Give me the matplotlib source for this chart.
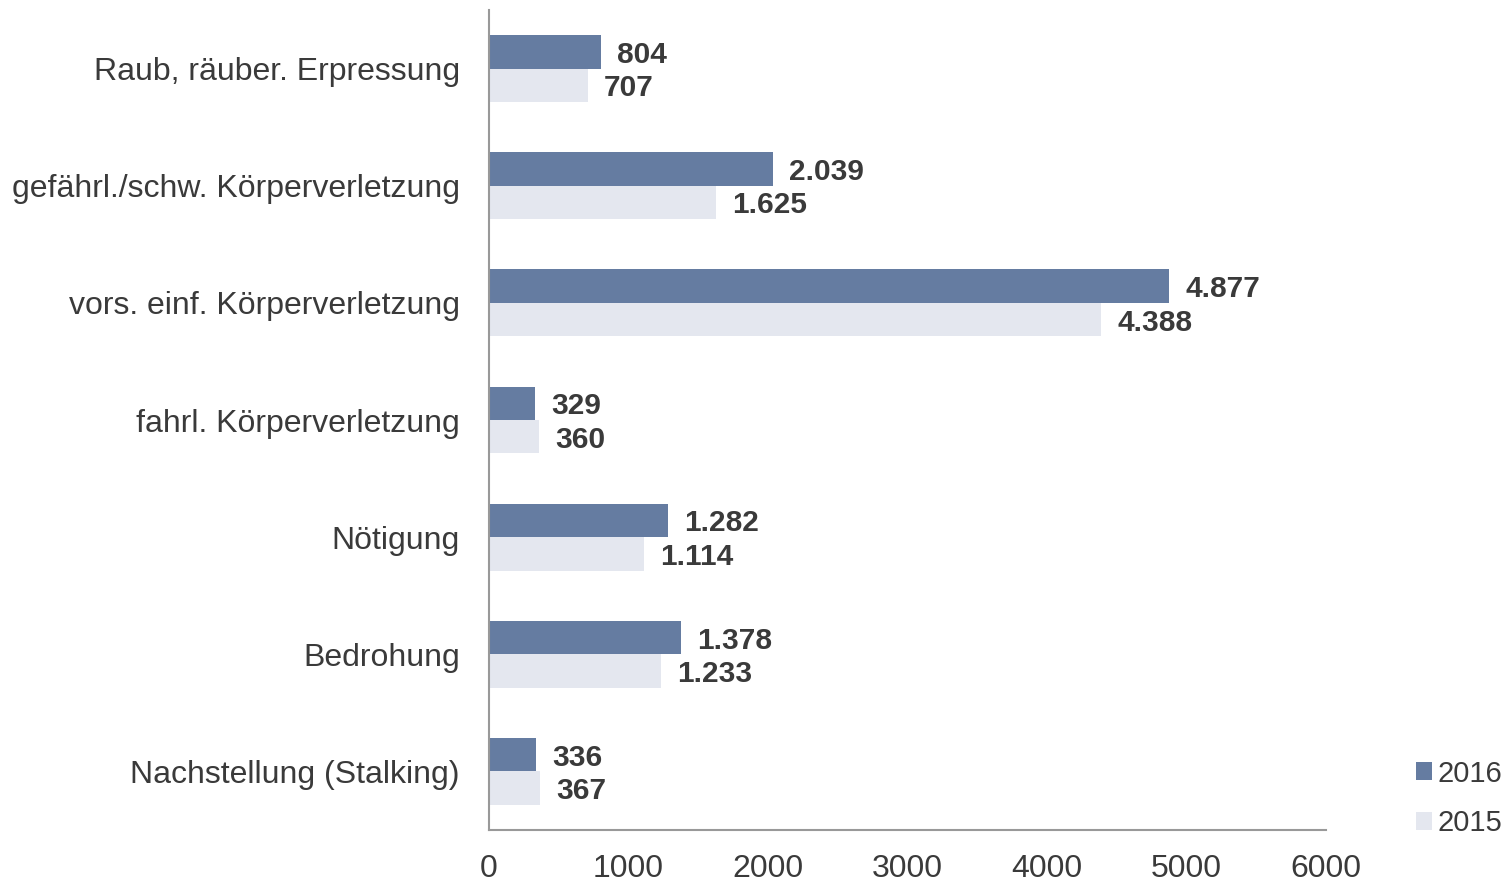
import matplotlib
matplotlib.use("Agg")
import matplotlib.pyplot as plt
import numpy as np

# === DADOS ===
kategorien = ["Raub, räuber. Erpressung", "gefährl./schw. Körperverletzung",
              "vors. einf. Körperverletzung", "fahrl. Körperverletzung",
              "Nötigung", "Bedrohung", "Nachstellung (Stalking)"]
werte_2016 = [804, 2039, 4877, 329, 1282, 1378, 336]
werte_2015 = [707, 1625, 4388, 360, 1114, 1233, 367]
x_ticks = [0, 1000, 2000, 3000, 4000, 5000, 6000]

farbe_2016 = "#657ca1"
farbe_2015 = "#e4e7ef"
text_farbe = "#3a3a3a"

plt.rcParams["font.family"] = ["Liberation Sans", "DejaVu Sans"]

def fmt(v):
    return f"{v:,}".replace(",", ".")

fig = plt.figure(figsize=(15.05, 8.85), dpi=100)
ax = fig.add_axes([489/1505, 1 - 830/885, (1326 - 489)/1505, 820/885])

n = len(kategorien)
y = np.arange(n)
h = 0.285

b16 = ax.barh(y - h/2, werte_2016, height=h, color=farbe_2016, label="2016")
b15 = ax.barh(y + h/2, werte_2015, height=h, color=farbe_2015, label="2015")

for bars, vals in [(b16, werte_2016), (b15, werte_2015)]:
    for bar, v in zip(bars, vals):
        ax.text(v + 115, bar.get_y() + bar.get_height()/2, fmt(v),
                ha="left", va="center_baseline", fontsize=21.5, fontweight="bold",
                color=text_farbe)

ax.set_ylim(n - 0.5, -0.5)
ax.set_xlim(0, 6000)
ax.set_yticks(y)
ax.set_yticklabels(kategorien, fontsize=23, color=text_farbe)
ax.set_xticks(x_ticks)
ax.set_xticklabels([str(t) for t in x_ticks], fontsize=23, color=text_farbe)
ax.tick_params(axis="both", length=0)
ax.tick_params(axis="y", pad=21)
ax.tick_params(axis="x", pad=17.5)

for s in ["top", "right"]:
    ax.spines[s].set_visible(False)
for s in ["left", "bottom"]:
    ax.spines[s].set_color("#999999")
    ax.spines[s].set_linewidth(1.5)

fig.legend(handles=[b16, b15], labels=["2016", "2015"], loc="lower left",
           bbox_to_anchor=(1401/1505, 1 - 852/885), frameon=False,
           fontsize=21, handlelength=0.55, handleheight=0.55,
           handletextpad=0.2, labelspacing=0.75, labelcolor=text_farbe,
           borderpad=0)

fig.savefig("out.png", dpi=100)
